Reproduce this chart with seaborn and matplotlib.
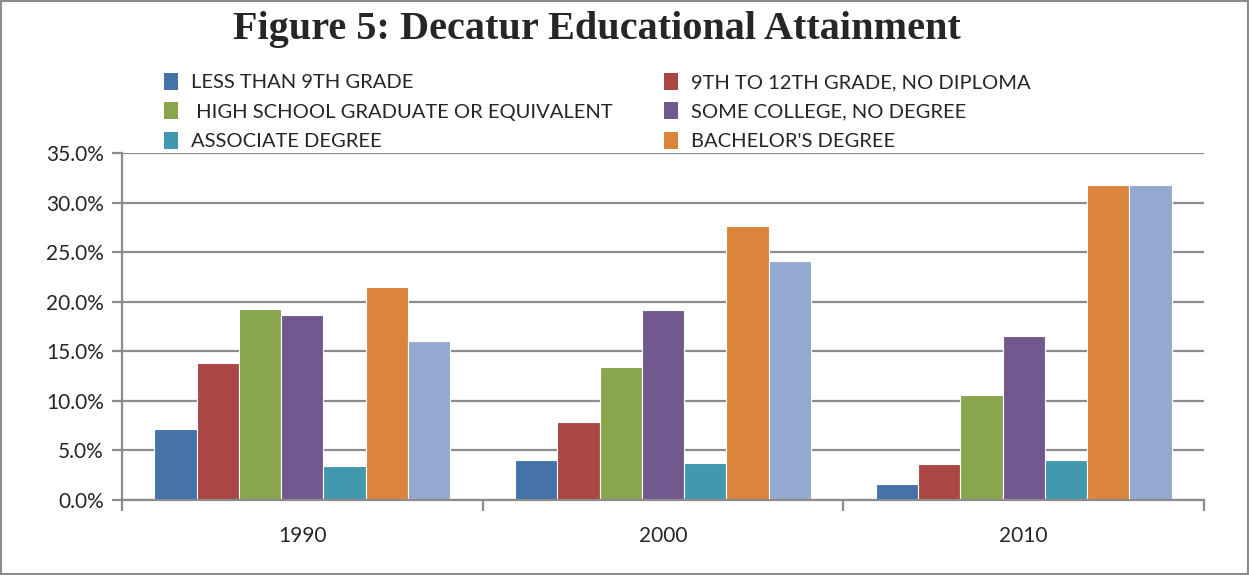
import matplotlib
matplotlib.use("Agg")
import matplotlib.pyplot as plt
import matplotlib.patches as mpatches
from matplotlib.ticker import PercentFormatter, FixedLocator
import seaborn as sns
import pandas as pd

years = ["1990", "2000", "2010"]
categories = [
    "LESS THAN 9TH GRADE",
    "9TH TO 12TH GRADE, NO DIPLOMA",
    " HIGH SCHOOL GRADUATE OR EQUIVALENT",
    "SOME COLLEGE, NO DEGREE",
    "ASSOCIATE DEGREE",
    "BACHELOR'S DEGREE",
    "GRADUATE OR PROFESSIONAL DEGREE",
]
less_9th = [7.2, 4.0, 1.6]
no_diploma = [13.8, 7.9, 3.6]
high_school = [19.3, 13.4, 10.6]
some_college = [18.7, 19.2, 16.5]
associate = [3.4, 3.7, 4.0]
bachelor = [21.5, 27.6, 31.8]
graduate = [16.0, 24.1, 31.8]

colors = ["#4572A7", "#AA4643", "#89A54E", "#71588F", "#4198AF", "#DB843D", "#93A9CF"]

series = [less_9th, no_diploma, high_school, some_college, associate, bachelor, graduate]
rows = []
for cat, vals in zip(categories, series):
    for y, v in zip(years, vals):
        rows.append({"year": y, "category": cat, "value": v})
df = pd.DataFrame(rows)

sns.set_style("white")
plt.rcParams["font.family"] = ["Lato", "DejaVu Sans"]

fig = plt.figure(figsize=(12.49, 5.75), dpi=100)
ax = fig.add_axes([122 / 1249, 1 - 500 / 575, (1204 - 122) / 1249, (500 - 153) / 575])

sns.barplot(data=df, x="year", y="value", hue="category", hue_order=categories,
            order=years, palette=colors, saturation=1, width=0.82, ax=ax,
            edgecolor="white", linewidth=0.8, legend=False, errorbar=None)

ax.set_ylim(0, 35)
ax.set_xlim(-0.5, 2.5)
ax.yaxis.set_major_locator(FixedLocator([0, 5, 10, 15, 20, 25, 30, 35]))
ax.yaxis.set_major_formatter(PercentFormatter(xmax=100, decimals=1))
ax.grid(axis="y", color="#8C8C8C", linewidth=1.6)
ax.set_axisbelow(True)
ax.set_xlabel("")
ax.set_ylabel("")
for s in ["top", "right"]:
    ax.spines[s].set_visible(False)
for s in ["left", "bottom"]:
    ax.spines[s].set_color("#8C8C8C")
    ax.spines[s].set_linewidth(1.6)

ax.tick_params(axis="y", which="major", length=7, width=1.6, color="#8C8C8C",
               labelsize=15, pad=6, left=True)
ax.set_xticks([0, 1, 2])
ax.set_xticklabels(years)
ax.tick_params(axis="x", which="major", length=0, labelsize=15, pad=19)
ax.set_xticks([-0.5, 0.5, 1.5, 2.5], minor=True)
ax.tick_params(axis="x", which="minor", length=8, width=1.6, color="#8C8C8C", bottom=True)

fig.text(597 / 1249, 1 - 30 / 575, "Figure 5: Decatur Educational Attainment",
         ha="center", va="center", fontsize=29, fontweight="bold",
         family=["Liberation Serif", "DejaVu Serif"])

def handles(idx):
    return [mpatches.Patch(facecolor=colors[i], edgecolor="none") for i in idx]

left_idx = [0, 2, 4]
right_idx = [1, 3, 5]
for idx, x0 in [(left_idx, 156), (right_idx, 656)]:
    fig.legend(handles(idx), [categories[i] for i in idx], loc="upper left",
               bbox_to_anchor=(x0 / 1249, 1 - 65 / 575), frameon=False,
               fontsize=14.5, handlelength=0.7, handleheight=0.9,
               handletextpad=0.65, labelspacing=0.55, borderaxespad=0)

fig.patches.append(mpatches.Rectangle((0.0008, 0.001), 0.9984, 0.998, transform=fig.transFigure,
                                      fill=False, edgecolor="#8C8C8C", linewidth=1.5))

fig.savefig("out.png", dpi=100)
